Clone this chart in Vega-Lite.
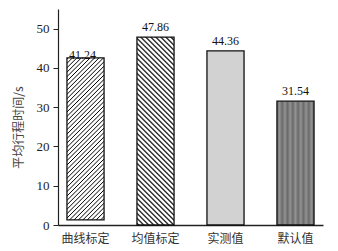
{
"$schema": "https://vega.github.io/schema/vega-lite/v6.json",
"width": 265, "height": 216,
"autosize": "none",
"padding": {"left": 58, "top": 9, "right": 15, "bottom": 26},
"background": "white",
"config": {"view": {"stroke": null}, "font": "Liberation Serif, Noto Sans CJK SC"},
"data": {"values": [
{"cat": "曲线标定", "low": 1.3, "high": 42.54, "label": "41.24"},
{"cat": "均值标定", "low": 0, "high": 47.86, "label": "47.86"},
{"cat": "实测值", "low": 0, "high": 44.36, "label": "44.36"},
{"cat": "默认值", "low": 0, "high": 31.54, "label": "31.54"}
]},
"encoding": {
"x": {"field": "cat", "type": "nominal", "sort": null,
"scale": {"paddingInner": 0.47, "paddingOuter": 0.128},
"axis": {"title": null, "ticks": false, "labelAngle": 0, "labelFontSize": 12, "labelPadding": 8, "labelColor": "#333", "labelFont": "Noto Sans CJK SC", "domainColor": "#222", "domainWidth": 1.5}},
"y": {"field": "low", "type": "quantitative", "scale": {"domain": [0, 55], "nice": false},
"axis": {"title": "平均行程时间/s", "values": [0, 10, 20, 30, 40, 50], "grid": false, "tickSize": 5, "tickColor": "#222", "labelPadding": 4, "labelFontSize": 13, "labelColor": "#222", "labelFont": "Liberation Serif", "domainColor": "#222", "domainWidth": 1.2, "titleFontSize": 12, "titleFontWeight": "normal", "titleColor": "#444", "titleFont": "Noto Sans CJK SC", "titleAngle": -90, "titleAlign": "center", "titleBaseline": "middle", "titleX": -40, "titleY": 118}},
"y2": {"field": "high"}
},
"layer": [
{"transform": [{"filter": "datum.cat === '曲线标定'"}],
"mark": {"type": "bar", "stroke": "#111", "strokeWidth": 1.3,
"fill": {"gradient": "linear", "x1": 0, "y1": 0, "x2": 0.2667, "y2": 1.1675, "stops": [
{"offset":0,"color":"#fff"},{"offset":0.005,"color":"#000"},{"offset":0.01,"color":"#fff"},
{"offset":0.0222,"color":"#fff"},{"offset":0.0272,"color":"#000"},{"offset":0.0322,"color":"#fff"},
{"offset":0.0444,"color":"#fff"},{"offset":0.0494,"color":"#000"},{"offset":0.0544,"color":"#fff"},
{"offset":0.0667,"color":"#fff"},{"offset":0.0717,"color":"#000"},{"offset":0.0767,"color":"#fff"},
{"offset":0.0889,"color":"#fff"},{"offset":0.0939,"color":"#000"},{"offset":0.0989,"color":"#fff"},
{"offset":0.1111,"color":"#fff"},{"offset":0.1161,"color":"#000"},{"offset":0.1211,"color":"#fff"},
{"offset":0.1333,"color":"#fff"},{"offset":0.1383,"color":"#000"},{"offset":0.1433,"color":"#fff"},
{"offset":0.1556,"color":"#fff"},{"offset":0.1606,"color":"#000"},{"offset":0.1656,"color":"#fff"},
{"offset":0.1778,"color":"#fff"},{"offset":0.1828,"color":"#000"},{"offset":0.1878,"color":"#fff"},
{"offset":0.2,"color":"#fff"},{"offset":0.205,"color":"#000"},{"offset":0.21,"color":"#fff"},
{"offset":0.2222,"color":"#fff"},{"offset":0.2272,"color":"#000"},{"offset":0.2322,"color":"#fff"},
{"offset":0.2444,"color":"#fff"},{"offset":0.2494,"color":"#000"},{"offset":0.2544,"color":"#fff"},
{"offset":0.2667,"color":"#fff"},{"offset":0.2717,"color":"#000"},{"offset":0.2767,"color":"#fff"},
{"offset":0.2889,"color":"#fff"},{"offset":0.2939,"color":"#000"},{"offset":0.2989,"color":"#fff"},
{"offset":0.3111,"color":"#fff"},{"offset":0.3161,"color":"#000"},{"offset":0.3211,"color":"#fff"},
{"offset":0.3333,"color":"#fff"},{"offset":0.3383,"color":"#000"},{"offset":0.3433,"color":"#fff"},
{"offset":0.3556,"color":"#fff"},{"offset":0.3606,"color":"#000"},{"offset":0.3656,"color":"#fff"},
{"offset":0.3778,"color":"#fff"},{"offset":0.3828,"color":"#000"},{"offset":0.3878,"color":"#fff"},
{"offset":0.4,"color":"#fff"},{"offset":0.405,"color":"#000"},{"offset":0.41,"color":"#fff"},
{"offset":0.4222,"color":"#fff"},{"offset":0.4272,"color":"#000"},{"offset":0.4322,"color":"#fff"},
{"offset":0.4444,"color":"#fff"},{"offset":0.4494,"color":"#000"},{"offset":0.4544,"color":"#fff"},
{"offset":0.4667,"color":"#fff"},{"offset":0.4717,"color":"#000"},{"offset":0.4767,"color":"#fff"},
{"offset":0.4889,"color":"#fff"},{"offset":0.4939,"color":"#000"},{"offset":0.4989,"color":"#fff"},
{"offset":0.5111,"color":"#fff"},{"offset":0.5161,"color":"#000"},{"offset":0.5211,"color":"#fff"},
{"offset":0.5333,"color":"#fff"},{"offset":0.5383,"color":"#000"},{"offset":0.5433,"color":"#fff"},
{"offset":0.5556,"color":"#fff"},{"offset":0.5606,"color":"#000"},{"offset":0.5656,"color":"#fff"},
{"offset":0.5778,"color":"#fff"},{"offset":0.5828,"color":"#000"},{"offset":0.5878,"color":"#fff"},
{"offset":0.6,"color":"#fff"},{"offset":0.605,"color":"#000"},{"offset":0.61,"color":"#fff"},
{"offset":0.6222,"color":"#fff"},{"offset":0.6272,"color":"#000"},{"offset":0.6322,"color":"#fff"},
{"offset":0.6444,"color":"#fff"},{"offset":0.6494,"color":"#000"},{"offset":0.6544,"color":"#fff"},
{"offset":0.6667,"color":"#fff"},{"offset":0.6717,"color":"#000"},{"offset":0.6767,"color":"#fff"},
{"offset":0.6889,"color":"#fff"},{"offset":0.6939,"color":"#000"},{"offset":0.6989,"color":"#fff"},
{"offset":0.7111,"color":"#fff"},{"offset":0.7161,"color":"#000"},{"offset":0.7211,"color":"#fff"},
{"offset":0.7333,"color":"#fff"},{"offset":0.7383,"color":"#000"},{"offset":0.7433,"color":"#fff"},
{"offset":0.7556,"color":"#fff"},{"offset":0.7606,"color":"#000"},{"offset":0.7656,"color":"#fff"},
{"offset":0.7778,"color":"#fff"},{"offset":0.7828,"color":"#000"},{"offset":0.7878,"color":"#fff"},
{"offset":0.8,"color":"#fff"},{"offset":0.805,"color":"#000"},{"offset":0.81,"color":"#fff"},
{"offset":0.8222,"color":"#fff"},{"offset":0.8272,"color":"#000"},{"offset":0.8322,"color":"#fff"},
{"offset":0.8444,"color":"#fff"},{"offset":0.8494,"color":"#000"},{"offset":0.8544,"color":"#fff"},
{"offset":0.8667,"color":"#fff"},{"offset":0.8717,"color":"#000"},{"offset":0.8767,"color":"#fff"},
{"offset":0.8889,"color":"#fff"},{"offset":0.8939,"color":"#000"},{"offset":0.8989,"color":"#fff"},
{"offset":0.9111,"color":"#fff"},{"offset":0.9161,"color":"#000"},{"offset":0.9211,"color":"#fff"},
{"offset":0.9333,"color":"#fff"},{"offset":0.9383,"color":"#000"},{"offset":0.9433,"color":"#fff"},
{"offset":0.9556,"color":"#fff"},{"offset":0.9606,"color":"#000"},{"offset":0.9656,"color":"#fff"},
{"offset":0.9778,"color":"#fff"},{"offset":0.9828,"color":"#000"},{"offset":0.9878,"color":"#fff"},
{"offset":1,"color":"#fff"}
]}}},
{"transform": [{"filter": "datum.cat === '均值标定'"}],
"mark": {"type": "bar", "stroke": "#111", "strokeWidth": 1.3,
"fill": {"gradient": "linear", "x1": 0, "y1": 1, "x2": 0.2268, "y2": -0.1522, "stops": [
{"offset":0,"color":"#fff"},{"offset":0.0075,"color":"#000"},{"offset":0.015,"color":"#fff"},
{"offset":0.0222,"color":"#fff"},{"offset":0.0297,"color":"#000"},{"offset":0.0372,"color":"#fff"},
{"offset":0.0444,"color":"#fff"},{"offset":0.0519,"color":"#000"},{"offset":0.0594,"color":"#fff"},
{"offset":0.0667,"color":"#fff"},{"offset":0.0742,"color":"#000"},{"offset":0.0817,"color":"#fff"},
{"offset":0.0889,"color":"#fff"},{"offset":0.0964,"color":"#000"},{"offset":0.1039,"color":"#fff"},
{"offset":0.1111,"color":"#fff"},{"offset":0.1186,"color":"#000"},{"offset":0.1261,"color":"#fff"},
{"offset":0.1333,"color":"#fff"},{"offset":0.1408,"color":"#000"},{"offset":0.1483,"color":"#fff"},
{"offset":0.1556,"color":"#fff"},{"offset":0.1631,"color":"#000"},{"offset":0.1706,"color":"#fff"},
{"offset":0.1778,"color":"#fff"},{"offset":0.1853,"color":"#000"},{"offset":0.1928,"color":"#fff"},
{"offset":0.2,"color":"#fff"},{"offset":0.2075,"color":"#000"},{"offset":0.215,"color":"#fff"},
{"offset":0.2222,"color":"#fff"},{"offset":0.2297,"color":"#000"},{"offset":0.2372,"color":"#fff"},
{"offset":0.2444,"color":"#fff"},{"offset":0.2519,"color":"#000"},{"offset":0.2594,"color":"#fff"},
{"offset":0.2667,"color":"#fff"},{"offset":0.2742,"color":"#000"},{"offset":0.2817,"color":"#fff"},
{"offset":0.2889,"color":"#fff"},{"offset":0.2964,"color":"#000"},{"offset":0.3039,"color":"#fff"},
{"offset":0.3111,"color":"#fff"},{"offset":0.3186,"color":"#000"},{"offset":0.3261,"color":"#fff"},
{"offset":0.3333,"color":"#fff"},{"offset":0.3408,"color":"#000"},{"offset":0.3483,"color":"#fff"},
{"offset":0.3556,"color":"#fff"},{"offset":0.3631,"color":"#000"},{"offset":0.3706,"color":"#fff"},
{"offset":0.3778,"color":"#fff"},{"offset":0.3853,"color":"#000"},{"offset":0.3928,"color":"#fff"},
{"offset":0.4,"color":"#fff"},{"offset":0.4075,"color":"#000"},{"offset":0.415,"color":"#fff"},
{"offset":0.4222,"color":"#fff"},{"offset":0.4297,"color":"#000"},{"offset":0.4372,"color":"#fff"},
{"offset":0.4444,"color":"#fff"},{"offset":0.4519,"color":"#000"},{"offset":0.4594,"color":"#fff"},
{"offset":0.4667,"color":"#fff"},{"offset":0.4742,"color":"#000"},{"offset":0.4817,"color":"#fff"},
{"offset":0.4889,"color":"#fff"},{"offset":0.4964,"color":"#000"},{"offset":0.5039,"color":"#fff"},
{"offset":0.5111,"color":"#fff"},{"offset":0.5186,"color":"#000"},{"offset":0.5261,"color":"#fff"},
{"offset":0.5333,"color":"#fff"},{"offset":0.5408,"color":"#000"},{"offset":0.5483,"color":"#fff"},
{"offset":0.5556,"color":"#fff"},{"offset":0.5631,"color":"#000"},{"offset":0.5706,"color":"#fff"},
{"offset":0.5778,"color":"#fff"},{"offset":0.5853,"color":"#000"},{"offset":0.5928,"color":"#fff"},
{"offset":0.6,"color":"#fff"},{"offset":0.6075,"color":"#000"},{"offset":0.615,"color":"#fff"},
{"offset":0.6222,"color":"#fff"},{"offset":0.6297,"color":"#000"},{"offset":0.6372,"color":"#fff"},
{"offset":0.6444,"color":"#fff"},{"offset":0.6519,"color":"#000"},{"offset":0.6594,"color":"#fff"},
{"offset":0.6667,"color":"#fff"},{"offset":0.6742,"color":"#000"},{"offset":0.6817,"color":"#fff"},
{"offset":0.6889,"color":"#fff"},{"offset":0.6964,"color":"#000"},{"offset":0.7039,"color":"#fff"},
{"offset":0.7111,"color":"#fff"},{"offset":0.7186,"color":"#000"},{"offset":0.7261,"color":"#fff"},
{"offset":0.7333,"color":"#fff"},{"offset":0.7408,"color":"#000"},{"offset":0.7483,"color":"#fff"},
{"offset":0.7556,"color":"#fff"},{"offset":0.7631,"color":"#000"},{"offset":0.7706,"color":"#fff"},
{"offset":0.7778,"color":"#fff"},{"offset":0.7853,"color":"#000"},{"offset":0.7928,"color":"#fff"},
{"offset":0.8,"color":"#fff"},{"offset":0.8075,"color":"#000"},{"offset":0.815,"color":"#fff"},
{"offset":0.8222,"color":"#fff"},{"offset":0.8297,"color":"#000"},{"offset":0.8372,"color":"#fff"},
{"offset":0.8444,"color":"#fff"},{"offset":0.8519,"color":"#000"},{"offset":0.8594,"color":"#fff"},
{"offset":0.8667,"color":"#fff"},{"offset":0.8742,"color":"#000"},{"offset":0.8817,"color":"#fff"},
{"offset":0.8889,"color":"#fff"},{"offset":0.8964,"color":"#000"},{"offset":0.9039,"color":"#fff"},
{"offset":0.9111,"color":"#fff"},{"offset":0.9186,"color":"#000"},{"offset":0.9261,"color":"#fff"},
{"offset":0.9333,"color":"#fff"},{"offset":0.9408,"color":"#000"},{"offset":0.9483,"color":"#fff"},
{"offset":0.9556,"color":"#fff"},{"offset":0.9631,"color":"#000"},{"offset":0.9706,"color":"#fff"},
{"offset":0.9778,"color":"#fff"},{"offset":0.9853,"color":"#000"},{"offset":0.9928,"color":"#fff"},
{"offset":1,"color":"#fff"}
]}}},
{"transform": [{"filter": "datum.cat === '实测值'"}],
"mark": {"type": "bar", "stroke": "#111", "strokeWidth": 1.3, "fill": "#d2d2d2"}},
{"transform": [{"filter": "datum.cat === '默认值'"}],
"mark": {"type": "bar", "stroke": "#111", "strokeWidth": 1.3,
"fill": {"gradient": "linear", "x1": 0, "y1": 0, "x2": 1, "y2": 0, "stops": [
{"offset":0,"color":"#6a6a6a"},{"offset":0.0714,"color":"#929292"},{"offset":0.1429,"color":"#6a6a6a"},{"offset":0.2143,"color":"#929292"},{"offset":0.2857,"color":"#6a6a6a"},{"offset":0.3571,"color":"#929292"},{"offset":0.4286,"color":"#6a6a6a"},{"offset":0.5,"color":"#929292"},{"offset":0.5714,"color":"#6a6a6a"},{"offset":0.6429,"color":"#929292"},{"offset":0.7143,"color":"#6a6a6a"},{"offset":0.7857,"color":"#929292"},{"offset":0.8571,"color":"#6a6a6a"},{"offset":0.9286,"color":"#929292"},{"offset":1,"color":"#6a6a6a"}
]}}},
{"transform": [{"filter": "datum.cat === '曲线标定'"}],
"mark": {"type": "text", "baseline": "alphabetic", "dx": -3, "dy": 1, "fontSize": 12, "font": "Liberation Serif", "color": "#111"},
"encoding": {"y": {"field": "high", "type": "quantitative"}, "y2": null, "text": {"field": "label"}}},
{"transform": [{"filter": "datum.cat !== '曲线标定'"}],
"mark": {"type": "text", "baseline": "alphabetic", "dy": -6, "fontSize": 12, "font": "Liberation Serif", "color": "#111"},
"encoding": {"y": {"field": "high", "type": "quantitative"}, "y2": null, "text": {"field": "label"}}}
]
}
